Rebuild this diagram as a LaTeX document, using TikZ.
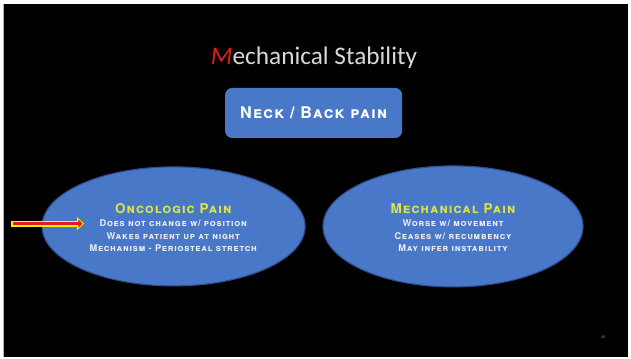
\documentclass[tikz,border=0pt]{standalone}
\usepackage{fontspec}
\usepackage{xcolor}
\usepackage{tikz}
\usetikzlibrary{
  positioning, arrows.meta, shapes.geometric
}
\newfontfamily\titlefont{Carlito}
\newfontfamily\capsfont[Letters=SmallCaps, LetterSpace=8]{TeX Gyre Heros}
\definecolor{slideBlack}{HTML}{000000}
\definecolor{slideBlue}{HTML}{4A78C8}
\definecolor{slideEdge}{HTML}{2F4F8F}
\definecolor{headYellow}{HTML}{DCE44C}
\definecolor{bodyWhite}{HTML}{ECEEF4}
\definecolor{titleGrey}{HTML}{D8D8D8}
\definecolor{accentRed}{HTML}{E01E1E}

\begin{document}
\begin{tikzpicture}[
  every node/.style={inner sep=0pt},
  painoval/.style={
    ellipse, fill=slideBlue, draw=slideEdge, line width=0.8pt
  },
  topbox/.style={
    rectangle, rounded corners=5pt,
    minimum width=4.425cm, minimum height=1.25cm,
    fill=slideBlue, text=white,
    font=\capsfont\bfseries\fontsize{11.5}{13}\selectfont
  },
  ovalhead/.style={
    font=\capsfont\bfseries\fontsize{9.6}{11}\selectfont, text=headYellow
  },
  ovalline/.style={
    font=\capsfont\bfseries\fontsize{6.6}{8}\selectfont, text=bodyWhite
  },
]

% === SLIDE FRAME ===
\fill[white] (0,0) rectangle (15.775,8.95);
\fill[slideBlack] (0.1,0.025) rectangle (15.7,8.85);
\fill[gray!60] (0.075,0.025) rectangle (0.1,8.85);
\useasboundingbox (0,0) rectangle (15.775,8.95);

% === TITLE ===
\node[font=\titlefont\fontsize{18}{21}\selectfont, text=titleGrey] (title) at (7.85,7.5)
  {\textcolor{accentRed}{\itshape M}echanical Stability};

% === TOP BOX ===
\node[topbox] (neckback) at (7.84,6.125) {Neck / Back pain};

% === OVALS ===
\node[painoval, minimum width=6.575cm, minimum height=2.975cm] (onco) at (4.34,3.29) {};
\node[painoval, minimum width=6.5cm, minimum height=3.025cm] (mech) at (11.325,3.29) {};

% Oncologic
\node[ovalhead] (oncohead) at (4.33,3.725) {Oncologic Pain};
\node[ovalline] (oncoA) at (4.33,3.37) {Does not change w/ position};
\node[ovalline] (oncoB) at (4.33,3.05) {Wakes patient up at night};
\node[ovalline] (oncoC) at (4.33,2.74) {Mechanism - Periosteal stretch};

% Mechanical
\node[ovalhead] (mechhead) at (11.325,3.725) {Mechanical Pain};
\node[ovalline] (mechA) at (11.325,3.37) {Worse w/ movement};
\node[ovalline] (mechB) at (11.325,3.05) {Ceases w/ recumbency};
\node[ovalline] (mechC) at (11.325,2.74) {May infer instability};

% === POINTER ===
\coordinate (ptail) at (0.275,3.36);
\coordinate (phead) at (2.1,3.36);
\draw[yellow, line width=4.4pt, -{Triangle[length=5pt, width=9pt]}] (ptail) -- (phead);
\draw[accentRed, line width=2.2pt, shorten >=1pt, -{Triangle[length=3pt, width=5.5pt]}]
  ([xshift=1.1pt]ptail) -- (phead);

% === PAGE NUMBER ===
\node[font=\sffamily\fontsize{3}{3}\selectfont, text=gray] (pagenum) at (15.075,0.525) {46};

\end{tikzpicture}
\end{document}
